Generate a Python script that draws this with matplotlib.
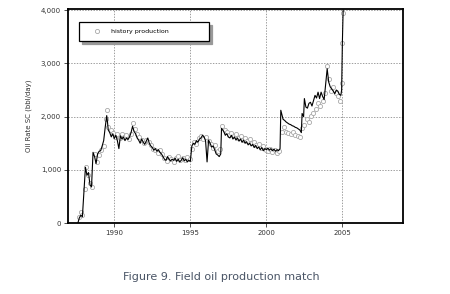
import matplotlib
matplotlib.use("Agg")
import matplotlib.pyplot as plt

# simulated field oil rate (black line)
sim_years = [
    1987.6, 1987.7, 1987.8, 1987.9, 1988.0, 1988.1, 1988.2, 1988.3, 1988.4, 1988.5,
    1988.6, 1988.7, 1988.8, 1988.9, 1989.0, 1989.1, 1989.2, 1989.3, 1989.4, 1989.5,
    1989.55, 1989.6, 1989.7, 1989.8, 1989.9, 1990.0, 1990.1, 1990.2, 1990.3, 1990.4,
    1990.5, 1990.6, 1990.7, 1990.8, 1990.9, 1991.0, 1991.1, 1991.2, 1991.3, 1991.4,
    1991.5, 1991.6, 1991.7, 1991.8, 1991.9, 1992.0, 1992.1, 1992.2, 1992.3, 1992.4,
    1992.5, 1992.6, 1992.7, 1992.8, 1992.9, 1993.0, 1993.1, 1993.2, 1993.3, 1993.4,
    1993.5, 1993.6, 1993.7, 1993.8, 1993.9, 1994.0, 1994.1, 1994.2, 1994.3, 1994.4,
    1994.5, 1994.6, 1994.7, 1994.8, 1994.9, 1995.0, 1995.1, 1995.2, 1995.3, 1995.4,
    1995.5, 1995.6, 1995.7, 1995.8, 1995.9, 1996.0, 1996.1, 1996.2, 1996.3, 1996.4,
    1996.5, 1996.6, 1996.7, 1996.8, 1996.9, 1997.0, 1997.05, 1997.2, 1997.3, 1997.4,
    1997.5, 1997.6, 1997.7, 1997.8, 1997.9, 1998.0, 1998.1, 1998.2, 1998.3, 1998.4,
    1998.5, 1998.6, 1998.7, 1998.8, 1998.9, 1999.0, 1999.1, 1999.2, 1999.3, 1999.4,
    1999.5, 1999.6, 1999.7, 1999.8, 1999.9, 2000.0, 2000.1, 2000.2, 2000.3, 2000.4,
    2000.5, 2000.6, 2000.7, 2000.8, 2000.9, 2000.95, 2001.1, 2001.2, 2001.3, 2001.4,
    2001.5, 2001.6, 2001.7, 2001.8, 2001.9, 2002.0, 2002.1, 2002.2, 2002.3, 2002.35,
    2002.45, 2002.5, 2002.6, 2002.7, 2002.8, 2002.9, 2003.0, 2003.1, 2003.2, 2003.3,
    2003.4, 2003.5, 2003.6, 2003.7, 2003.8, 2003.9, 2004.0, 2004.1, 2004.2, 2004.3,
    2004.4, 2004.5, 2004.6, 2004.7, 2004.8, 2004.9, 2004.95, 2005.0, 2005.05,
]
sim_rates = [
    0, 100, 150, 120, 600, 1050, 900, 950, 720, 680,
    1330, 1250, 1120, 1300, 1350, 1360, 1450, 1550, 1800, 2020,
    1900, 1750, 1700, 1620, 1680, 1590, 1650, 1550, 1400, 1640,
    1580, 1620, 1550, 1600, 1570, 1620, 1700, 1820, 1720, 1680,
    1600, 1560, 1500, 1580, 1520, 1480, 1540, 1600, 1500, 1450,
    1420, 1370, 1400, 1350, 1380, 1330, 1300, 1250, 1200, 1180,
    1250, 1200, 1170, 1200, 1180, 1220, 1160, 1200, 1150, 1180,
    1230, 1170, 1200, 1150, 1180, 1160, 1450, 1500, 1480, 1550,
    1520, 1580, 1600, 1650, 1620, 1550, 1150, 1560, 1500, 1430,
    1450, 1380, 1300, 1280, 1250, 1300, 1780, 1720, 1650, 1680,
    1620, 1600, 1650, 1580, 1620, 1560, 1600, 1540, 1580, 1520,
    1560, 1500, 1530, 1470, 1500, 1450, 1480, 1420, 1460, 1400,
    1430, 1380, 1420, 1360, 1400, 1380, 1410, 1370, 1400, 1360,
    1390, 1350, 1380, 1360, 1400, 2120, 1950, 1930, 1900, 1880,
    1860, 1850, 1830, 1820, 1800, 1790, 1770, 1750, 1700, 2060,
    2000, 2340, 2180, 2160, 2250, 2270, 2200, 2300, 2400, 2350,
    2460, 2340, 2460, 2380, 2320, 2600, 2900, 2650, 2560, 2520,
    2480, 2430, 2500, 2480, 2420, 2400, 2500, 3400, 4000,
]

# history production (open circles)
hist_years = [
    1987.7, 1987.8, 1987.9, 1988.05, 1988.15, 1988.25, 1988.4, 1988.55, 1988.7, 1988.85,
    1989.0, 1989.15, 1989.3, 1989.45, 1989.5, 1989.6, 1989.75, 1989.9, 1990.05, 1990.2,
    1990.35, 1990.5, 1990.65, 1990.8, 1990.95, 1991.1, 1991.2, 1991.35, 1991.5, 1991.65,
    1991.8, 1991.95, 1992.1, 1992.25, 1992.4, 1992.55, 1992.7, 1992.85, 1993.0, 1993.15,
    1993.3, 1993.45, 1993.6, 1993.75, 1993.9, 1994.05, 1994.2, 1994.35, 1994.5, 1994.65,
    1994.8, 1994.95, 1995.1, 1995.25, 1995.4, 1995.55, 1995.7, 1995.85, 1996.0, 1996.2,
    1996.35, 1996.5, 1996.65, 1996.8, 1996.95, 1997.1, 1997.25, 1997.4, 1997.55, 1997.7,
    1997.85, 1998.0, 1998.15, 1998.3, 1998.45, 1998.6, 1998.75, 1998.9, 1999.05, 1999.2,
    1999.35, 1999.5, 1999.65, 1999.8, 1999.95, 2000.1, 2000.25, 2000.4, 2000.55, 2000.7,
    2000.85, 2001.0, 2001.15, 2001.3, 2001.45, 2001.6, 2001.75, 2001.9, 2002.05, 2002.2,
    2002.35, 2002.5, 2002.65, 2002.8, 2002.95, 2003.1, 2003.25, 2003.4, 2003.55, 2003.7,
    2003.85, 2004.0, 2004.1, 2004.25, 2004.4, 2004.55, 2004.7, 2004.85, 2004.95, 2005.0,
    2005.05,
]
hist_rates = [
    120, 200, 150, 650, 1050, 900, 750, 680, 1300, 1150,
    1280, 1380, 1450, 1950, 2130, 1800, 1750, 1700, 1620, 1680,
    1600, 1680, 1620, 1650, 1580, 1680, 1880, 1760, 1680, 1620,
    1560, 1500, 1560, 1520, 1460, 1400, 1380, 1320, 1380, 1300,
    1230, 1160, 1240, 1200, 1150, 1220, 1260, 1180, 1230, 1180,
    1250, 1200, 1400, 1520, 1480, 1600, 1640, 1580, 1620, 1550,
    1480, 1420, 1460, 1350, 1400, 1830, 1750, 1720, 1660, 1700,
    1640, 1680, 1600, 1640, 1560, 1600, 1540, 1580, 1500, 1520,
    1460, 1490, 1420, 1440, 1380, 1350, 1400, 1330, 1370, 1320,
    1350, 1720, 1800, 1720, 1700, 1680, 1720, 1660, 1640, 1620,
    1780, 1850, 1950, 1900, 2020, 2060, 2150, 2250, 2200, 2300,
    2450, 2960, 2700, 2480, 2550, 2450, 2380, 2300, 2640, 3380,
    3940,
]

x_ticks = [1990, 1995, 2000, 2005]
y_ticks = [0, 1000, 2000, 3000, 4000]
y_tick_labels = ["0", "1,000", "2,000", "3,000", "4,000"]

fig = plt.figure(figsize=(4.5, 2.94), dpi=100)
ax = fig.add_axes([0.151, 0.241, 0.745, 0.728])

ax.plot(sim_years, sim_rates, color="black", linewidth=0.8, zorder=3)
ax.plot(hist_years, hist_rates, linestyle="none", marker="o", markersize=3,
        markerfacecolor="white", markeredgecolor="#a8a8a8", markeredgewidth=0.6,
        label="history production", zorder=2)

ax.set_xlim(1986.95, 2009.0)
ax.set_ylim(0, 4020)
ax.set_xticks(x_ticks)
ax.set_xticklabels([str(y) for y in x_ticks])
ax.set_yticks(y_ticks)
ax.set_yticklabels(y_tick_labels)
ax.tick_params(labelsize=5, length=3, width=0.6, pad=2, colors="#333333")
ax.set_ylabel("Oil Rate SC (bbl/day)", fontsize=5, color="#333333", labelpad=6)

ax.grid(True, linestyle=(0, (2, 2)), color="#777777", linewidth=0.5)
for s in ax.spines.values():
    s.set_linewidth(1.3)
    s.set_color("black")

leg = ax.legend(loc="upper left", bbox_to_anchor=(0.033, 0.85, 0.388, 0.09),
                mode="expand", borderaxespad=0, fontsize=4.5, frameon=True,
                fancybox=False, shadow={"color": "#999999", "alpha": 1.0},
                handlelength=3.5, handletextpad=0.5, borderpad=1.1, numpoints=1)
leg.get_frame().set_edgecolor("black")
leg.get_frame().set_linewidth(0.9)

fig.text(0.491, 0.058, "Figure 9. Field oil production match", ha="center",
         va="center", fontsize=8, color="#4a5566")

fig.savefig("out.png", dpi=100)
